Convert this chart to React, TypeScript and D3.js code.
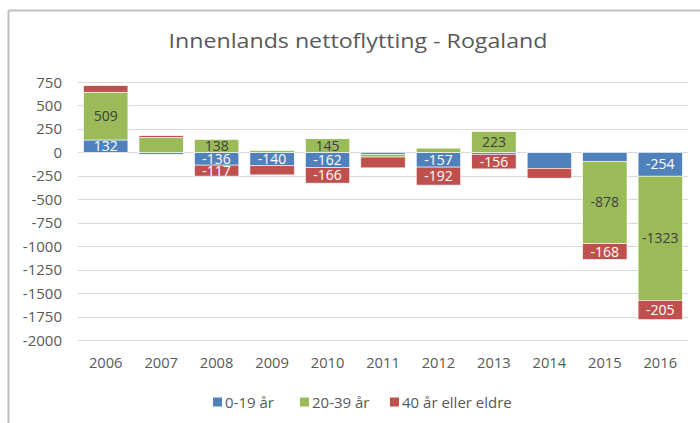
import React from "react";
import * as d3 from "d3";

const years = ["2006", "2007", "2008", "2009", "2010", "2011", "2012", "2013", "2014", "2015", "2016"];
const age0to19 = [132, -20, -136, -140, -162, -20, -157, -20, -170, -95, -254];
const age20to39 = [509, 160, 138, 20, 145, -30, 45, 223, 3, -878, -1323];
const age40plus = [70, 18, -117, -100, -166, -115, -192, -156, -105, -168, -205];
const show0to19 = [true, false, true, true, true, false, true, false, false, false, true];
const show20to39 = [true, false, true, false, true, false, false, true, false, true, true];
const show40plus = [false, false, true, false, true, false, true, true, false, true, true];
const yTicks = [750, 500, 250, 0, -250, -500, -750, -1000, -1250, -1500, -1750, -2000];
const seriesNames = ["0-19 år", "20-39 år", "40 år eller eldre"];
const seriesColors = ["#4f81bd", "#9bbb59", "#c0504d"];
const labelColors = ["#ffffff", "#404040", "#ffffff"];

const W = 700;
const H = 423;
const FONT = "'Open Sans', 'Liberation Sans', sans-serif";

export default function App() {
  const keys = ["a", "b", "c"];
  const rows = years.map((y, i) => ({ year: y, a: age0to19[i], b: age20to39[i], c: age40plus[i] }));
  const shows = [show0to19, show20to39, show40plus];
  const stack = d3.stack<any>().keys(keys).offset(d3.stackOffsetDiverging);
  const stacked = stack(rows);

  const x = d3.scaleBand().domain(years).range([78, 688]).paddingInner(0.2).paddingOuter(0.1);
  const y = d3.scaleLinear().domain([-2000, 750]).range([340, 82]);

  return (
    <svg width={W} height={H} style={{ position: "absolute", left: 0, top: 0 }} xmlns="http://www.w3.org/2000/svg">
      <rect x={0} y={0} width={W} height={H} fill="#ffffff" />
      <line x1={8.5} y1={10.5} x2={W} y2={10.5} stroke="#bfbfbf" strokeWidth={2} />
      <line x1={8.5} y1={10.5} x2={8.5} y2={H} stroke="#bfbfbf" strokeWidth={2} />
      <text x={358} y={48} textAnchor="middle" fontFamily={FONT} fontSize={20} fill="#595959"
        textLength={379} lengthAdjust="spacingAndGlyphs">
        Innenlands nettoflytting - Rogaland
      </text>
      {yTicks.map((t) => (
        <g key={t}>
          <line x1={78} x2={688} y1={Math.round(y(t)) + 0.5} y2={Math.round(y(t)) + 0.5} stroke="#d9d9d9" strokeWidth={1.2} />
          <text x={62} y={y(t) + 5.5} textAnchor="end" fontFamily={FONT} fontSize={15} fill="#595959">{t}</text>
        </g>
      ))}
      {stacked.map((s, si) => (
        <g key={s.key}>
          {s.map((d, i) => {
            const y0 = y(Math.max(d[0], d[1]));
            const y1 = y(Math.min(d[0], d[1]));
            return (
              <rect key={i} x={x(years[i])} y={y0} width={x.bandwidth()} height={Math.max(0, y1 - y0)}
                fill={seriesColors[si]} stroke="#ffffff" strokeWidth={0.6} />
            );
          })}
        </g>
      ))}
      {stacked.map((s, si) => (
        <g key={"l" + s.key}>
          {s.map((d, i) => {
            if (!shows[si][i]) return null;
            const v = (d.data as any)[s.key];
            const cy = (y(d[0]) + y(d[1])) / 2;
            return (
              <text key={i} x={(x(years[i]) as number) + x.bandwidth() / 2} y={cy + 5} textAnchor="middle"
                fontFamily={FONT} fontSize={14} fill={labelColors[si]}>{v}</text>
            );
          })}
        </g>
      ))}
      {years.map((yr) => (
        <text key={yr} x={(x(yr) as number) + x.bandwidth() / 2} y={367.5} textAnchor="middle"
          fontFamily={FONT} fontSize={14.7} fill="#595959">{yr}</text>
      ))}
      {seriesNames.map((n, i) => {
        const lx = [213, 300, 390][i];
        return (
          <g key={n}>
            <rect x={lx} y={397.5} width={9} height={9} fill={seriesColors[i]} />
            <text x={lx + 12} y={408} fontFamily={FONT} fontSize={15} fill="#595959">{n}</text>
          </g>
        );
      })}
    </svg>
  );
}
